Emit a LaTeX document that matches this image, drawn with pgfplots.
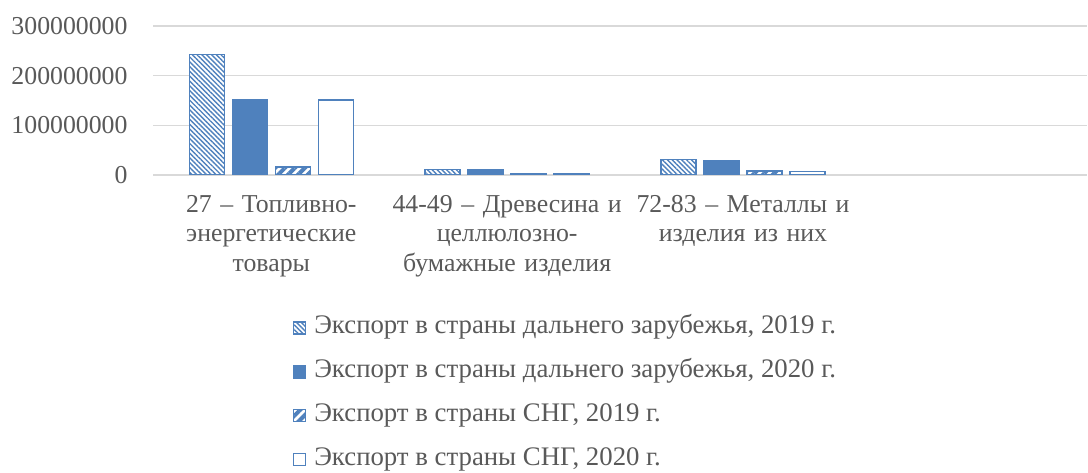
\documentclass[border=0pt]{standalone}
\usepackage{fontspec}
\setmainfont{Liberation Serif}
\usepackage{pgfplots}
\pgfplotsset{compat=1.18}
\usetikzlibrary{patterns.meta,calc}

\definecolor{bblue}{HTML}{4F81BD}
\definecolor{tgray}{HTML}{595959}
\definecolor{ggray}{HTML}{D9D9D9}

\begin{document}
\begin{tikzpicture}[font=\fontsize{12.9}{14.75}\selectfont]
\begin{axis}[
    name=ax, at={(0,0)}, anchor=south west,
    scale only axis,
    width=467.25pt, height=74.5pt,
    xmin=-0.5, xmax=3.4597,
    ymin=0, ymax=3e8,
    scaled y ticks=false,
    ybar=4pt, bar width=17.5pt,
    axis line style={draw=none},
    major tick length=0pt,
    ymajorgrids,
    grid style={ggray, line width=0.75pt},
    ytick={0,1e8,2e8,3e8},
    yticklabels={0,100000000,200000000,300000000},
    xtick={0,1,2},
    xticklabels={
        {27 – Топливно-\\энергетические\\товары},
        {44-49 – Древесина и\\целлюлозно-\\бумажные изделия},
        {72-83 – Металлы и\\изделия из них}},
    tick label style={text=tgray},
    yticklabel style={anchor=east, inner sep=0pt, xshift=-12.75pt},
    xticklabel style={anchor=north, inner sep=0pt, yshift=-10pt,
        align=center, text width=118pt},
    legend style={at={(0.1493,-0.953)}, anchor=north west,
        draw=none, fill=none, inner sep=0pt, outer sep=0pt,
        font=\fontsize{13.4}{15}\selectfont,
        row sep=11pt, column sep=4pt, cells={anchor=west},
        nodes={inner sep=0pt, text height=8.5pt, text depth=2.5pt, text=tgray}},
    legend image code/.code={\draw[#1] (0pt,-3pt) rectangle (6pt,3pt);},
]

% Экспорт в страны дальнего зарубежья, 2019
\addplot[draw=bblue, line width=0.75pt, fill=white,
    postaction={pattern={Lines[angle=-45,distance=1.7pt,line width=0.7pt]}, pattern color=bblue}]
    coordinates {(0,243e6) (1,11e6) (2,31e6)};
\addlegendentry{Экспорт в страны дальнего зарубежья, 2019 г.}

% Экспорт в страны дальнего зарубежья, 2020
\addplot[draw=bblue, line width=0.75pt, fill=bblue]
    coordinates {(0,152e6) (1,10e6) (2,28e6)};
\addlegendentry{Экспорт в страны дальнего зарубежья, 2020 г.}

% Экспорт в страны СНГ, 2019
\addplot[draw=bblue, line width=0.75pt, fill=white,
    postaction={pattern={Lines[angle=45,distance=3.5pt,line width=2pt]}, pattern color=bblue}]
    coordinates {(0,15.5e6) (1,3e6) (2,7.5e6)};
\addlegendentry{Экспорт в страны СНГ, 2019 г.}

% Экспорт в страны СНГ, 2020
\addplot[draw=bblue, line width=0.75pt, fill=white]
    coordinates {(0,151e6) (1,3e6) (2,6.5e6)};
\addlegendentry{Экспорт в страны СНГ, 2020 г.}

\end{axis}
\path ($(ax.south west)+(-76.75pt,-149pt)$) rectangle ($(ax.north east)+(0pt,13pt)$);
\end{tikzpicture}
\end{document}
